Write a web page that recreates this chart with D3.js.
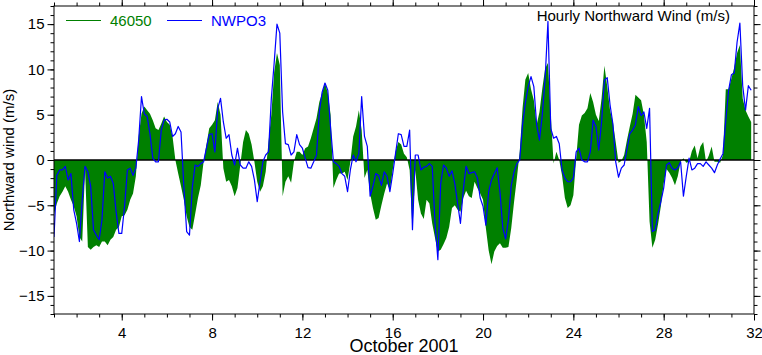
<!DOCTYPE html>
<html><head><meta charset="utf-8">
<script src="https://cdn.jsdelivr.net/npm/d3@7"></script>
<style>
body{margin:0;background:#fff}
svg{display:block}
text{font-family:"Liberation Sans",Arial,Helvetica,sans-serif}
</style>
</head><body>
<svg id="c" width="762" height="355"></svg>
<script>
// ---- data (3-hourly samples starting Oct 1 00:00) ----
const seriesNames = ["46050", "NWPO3"];
const startDay = 1;
const stepHours = 3;
const buoy46050 = [
-6.0,-4.8,-4.0,-3.5,-2.9,-3.5,-4.4,-5.1,-6.2,-8.5,
-9.0,-1.0,-9.6,-9.9,-9.6,-9.4,-9.6,-9.0,-9.0,-9.4,
-8.8,-8.5,-7.7,-7.4,-6.2,-6.1,-5.5,-4.4,-3.7,-1.8,
2.6,5.1,5.9,5.5,5.1,4.4,3.5,3.3,4.0,4.8,
4.2,3.9,2.6,0.0,-1.5,-2.9,-4.4,-6.2,-7.4,-7.7,
-6.0,-4.2,-2.8,-0.2,1.7,3.5,3.9,4.4,6.4,5.0,
-0.9,-2.4,-2.2,-2.9,-4.0,-3.1,-0.55,2.0,3.3,2.9,
1.7,-0.2,-2.4,-3.5,-2.9,-1.3,2.0,5.0,9.7,11.8,
10.5,-4.0,-2.4,-1.8,-2.5,-0.2,0.9,0.9,0.55,1.3,
1.5,2.4,3.5,4.6,6.4,7.4,8.5,7.4,5.0,-3.1,
-2.2,-1.5,-1.5,-1.3,-2.2,-0.2,2.6,3.7,5.5,3.3,
-2.0,-1.1,-3.7,-5.3,-6.6,-6.4,-5.0,-3.7,-2.6,-3.3,
-1.1,0.9,2.0,1.7,0.7,0.3,-1.1,-7.7,-1.1,-4.4,
-5.9,-6.5,-4.4,-4.8,-7.0,-8.6,-10.1,-9.9,-9.3,-8.6,
-7.4,-5.3,-5.0,-5.5,-5.7,-4.2,-3.4,-4.0,-4.2,
-2.4,-3.1,-3.7,-4.4,-7.5,-10.0,-11.5,-10.1,-9.5,-9.2,
-9.7,-9.7,-9.6,-7.5,-4.6,-2.0,0.9,5.7,8.9,9.6,
7.8,6.6,3.9,5.3,7.9,10.1,10.7,5.0,-0.4,0.9,
0.0,-1.7,-4.2,-5.3,-5.0,-3.9,0.2,3.9,4.9,5.2,
5.7,7.4,6.4,5.0,4.3,6.8,10.4,8.1,5.5,4.2,
2.0,-0.3,-0.1,0.55,2.2,3.7,5.1,7.2,6.9,6.6,
5.0,2.0,-6.8,-9.7,-8.8,-7.1,-5.1,-2.6,-1.0,-1.4,
-2.0,-2.8,-1.8,-0.2,0.2,-0.3,-0.2,1.0,1.6,0.2,
1.5,2.0,-0.2,0.5,1.5,-0.2,-0.2,-0.3,0.55,7.8,
7.8,9.0,10.2,11.8,12.7,6.8,5.5,4.8,4.2
];
const nwpo3 = [
-8.5,-1.7,-1.1,-1.1,-0.7,-2.2,-1.5,-5.5,-7.0,-9.0,
-4.4,-0.7,-1.3,-2.9,-7.7,-8.3,-8.8,-6.6,-1.3,-2.0,
-1.8,-2.6,-5.7,-8.1,-8.1,-5.1,-1.1,-0.9,-1.7,-0.9,
2.2,7.0,5.1,4.8,2.9,0.2,-0.2,-0.2,3.3,4.4,
4.5,4.2,2.6,2.9,3.7,3.1,-2.9,-7.9,-8.3,-3.0,
-0.55,-0.7,-0.4,-0.2,1.3,2.8,2.9,0.9,5.7,6.8,
4.2,2.4,2.8,0.55,-0.55,1.3,-0.55,-0.9,-0.9,-0.2,
-0.7,-2.2,-4.6,-2.4,-0.2,0.55,0.9,6.8,10.7,15.0,
14.0,5.3,1.8,1.7,0.55,0.9,2.8,1.7,1.3,0.2,
-0.85,-0.9,-0.2,0.55,5.3,7.5,8.5,7.7,3.5,-0.2,
-0.4,-0.7,-1.5,-1.8,-3.5,-1.1,0.55,-0.2,0.7,7.0,
2.6,1.5,-4.0,-2.9,-1.5,-1.7,-2.8,-1.3,-1.8,-3.5,
-1.5,0.7,2.9,2.8,1.5,1.5,3.3,-7.7,0.55,0.55,
-1.1,-0.8,-0.7,-0.4,-0.7,-7.0,-11.0,-2.6,-0.55,-0.9,
-1.8,-1.2,-2.6,-4.8,-7.0,-3.3,-0.7,-1.5,-1.4,
-1.3,-2.0,-4.2,-5.1,-7.2,-3.5,-2.2,-1.5,-0.85,-3.5,
-7.5,-8.7,-6.6,-2.8,-1.3,-0.4,0.0,3.9,6.3,8.1,
9.2,8.1,3.9,2.2,5.0,9.0,15.3,3.5,2.4,2.6,
1.8,-1.1,-2.0,-2.4,-2.4,-2.0,0.9,1.3,0.0,-0.2,
-0.2,0.9,4.4,3.7,1.1,4.2,8.8,9.1,6.1,4.0,
-0.2,-1.9,-0.9,-0.55,1.2,2.9,3.3,3.9,5.9,4.9,
5.3,3.5,5.7,-7.9,-7.7,-5.9,-4.6,-3.1,-0.55,-0.3,
-0.9,-1.1,-0.85,-0.2,-4.0,-1.8,0.2,-1.1,-0.9,-0.4,
-0.4,-0.7,-0.2,-0.55,-0.9,-1.4,-0.55,0.1,0.7,4.3,
7.7,9.4,9.6,13.0,15.1,8.2,5.5,8.2,7.7
];
const xMajorTicks = [4, 8, 12, 16, 20, 24, 28, 32];
const xMinorTicks = d3.range(1, 33);
const yMajorTicks = [-15, -10, -5, 0, 5, 10, 15];
const yMinorTicks = d3.range(-17, 18);
const xTitle = "October 2001";
const yTitle = "Northward wind (m/s)";
const chartTitle = "Hourly Northward Wind (m/s)";

// ---- layout ----
const L = 54, R = 754, T = 6, B = 314;
const GREEN = "#008000", BLUE = "#0000ff";
const svg = d3.select("#c");
const x = d3.scaleLinear().domain([1, 32]).range([L, R]);
const y = d3.scaleLinear().domain([-17, 17]).range([B, T]);

const dayOf = i => startDay + i * stepHours / 24;
const d46050 = buoy46050.map((v, i) => ({t: dayOf(i), v}));
const dNW = nwpo3.map((v, i) => ({t: dayOf(i), v}));

svg.append("defs").append("clipPath").attr("id", "clip")
  .append("rect").attr("x", L).attr("y", T).attr("width", R - L).attr("height", B - T);

const plot = svg.append("g").attr("clip-path", "url(#clip)");
plot.append("path").datum(d46050)
  .attr("fill", GREEN)
  .attr("d", d3.area().x(d => x(d.t)).y0(y(0)).y1(d => y(d.v)));
plot.append("line").attr("x1", L).attr("x2", R).attr("y1", y(0)).attr("y2", y(0))
  .attr("stroke", "#000").attr("stroke-width", 1.5);
plot.append("path").datum(dNW)
  .attr("fill", "none").attr("stroke", BLUE).attr("stroke-width", 1.2)
  .attr("stroke-linejoin", "round")
  .attr("d", d3.line().x(d => x(d.t)).y(d => y(d.v)));

// ---- axes ----
function styleAxis(g) {
  g.select(".domain").remove();
  g.selectAll("line").attr("stroke", "#000").attr("stroke-width", 1);
  g.selectAll("text").attr("font-size", 15).attr("fill", "#000")
    .attr("font-family", '"Liberation Sans",Arial,Helvetica,sans-serif');
}
const fmt = d3.format("d");
svg.append("g").attr("transform", `translate(0,${B})`)
  .call(d3.axisBottom(x).tickValues(xMinorTicks).tickSize(3.5).tickFormat("")).call(styleAxis);
svg.append("g").attr("transform", `translate(0,${B})`)
  .call(d3.axisBottom(x).tickValues(xMajorTicks).tickSize(6.5).tickPadding(7).tickFormat(fmt)).call(styleAxis);
svg.append("g").attr("transform", `translate(0,${T})`)
  .call(d3.axisTop(x).tickValues(xMinorTicks).tickSize(3.5).tickFormat("")).call(styleAxis);
svg.append("g").attr("transform", `translate(0,${T})`)
  .call(d3.axisTop(x).tickValues(xMajorTicks).tickSize(6.5).tickFormat("")).call(styleAxis);
svg.append("g").attr("transform", `translate(${L},0)`)
  .call(d3.axisLeft(y).tickValues(yMinorTicks).tickSize(3.5).tickFormat("")).call(styleAxis);
svg.append("g").attr("transform", `translate(${L},0)`)
  .call(d3.axisLeft(y).tickValues(yMajorTicks).tickSize(6.5).tickPadding(3).tickFormat(fmt)).call(styleAxis);
svg.append("g").attr("transform", `translate(${R},0)`)
  .call(d3.axisRight(y).tickValues(yMinorTicks).tickSize(3.5).tickFormat("")).call(styleAxis);
svg.append("g").attr("transform", `translate(${R},0)`)
  .call(d3.axisRight(y).tickValues(yMajorTicks).tickSize(6.5).tickFormat("")).call(styleAxis);

svg.append("rect").attr("x", L).attr("y", T).attr("width", R - L).attr("height", B - T)
  .attr("fill", "none").attr("stroke", "#000").attr("stroke-width", 1);

// ---- titles ----
svg.append("text").attr("x", (L + R) / 2).attr("y", 352).attr("text-anchor", "middle")
  .attr("font-size", 18).text(xTitle);
svg.append("text").attr("transform", `translate(14,${(T + B) / 2}) rotate(-90)`)
  .attr("text-anchor", "middle").attr("font-size", 15).text(yTitle);
svg.append("text").attr("x", 730).attr("y", 21).attr("text-anchor", "end")
  .attr("font-size", 15).text(chartTitle);

// ---- legend ----
const legend = [
  {name: seriesNames[0], color: GREEN, x0: 66},
  {name: seriesNames[1], color: BLUE, x0: 167}
];
legend.forEach(d => {
  svg.append("line").attr("x1", d.x0).attr("x2", d.x0 + 35).attr("y1", 20.5).attr("y2", 20.5)
    .attr("stroke", d.color).attr("stroke-width", 1.2);
  svg.append("text").attr("x", d.x0 + 44).attr("y", 26).attr("font-size", 15)
    .attr("fill", d.color).text(d.name);
});
</script>
</body></html>
